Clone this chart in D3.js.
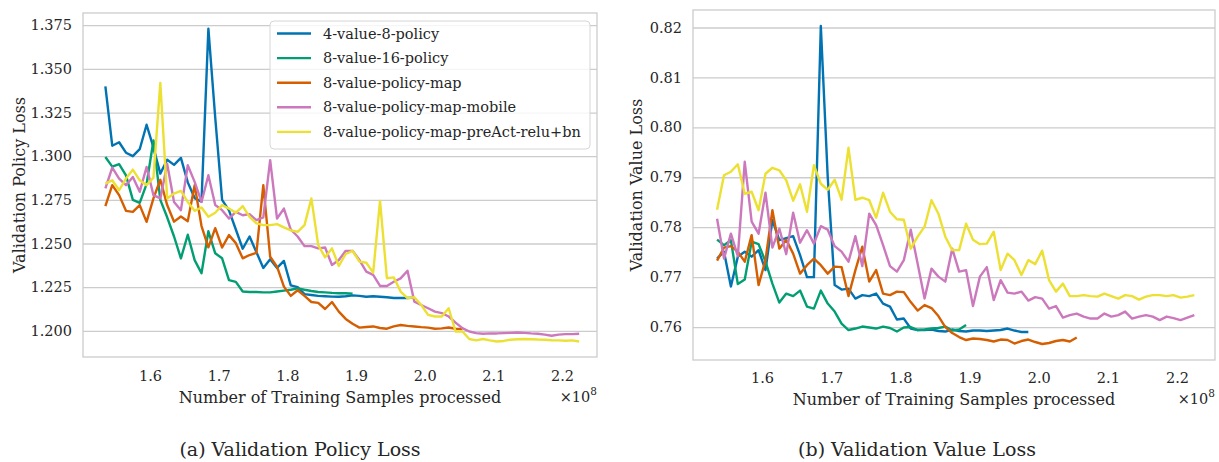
<!DOCTYPE html>
<html>
<head>
<meta charset="utf-8">
<script src="https://cdn.jsdelivr.net/npm/d3@7"></script>
<style>
  body { margin: 0; background: #fff; }
  text { font-family: "DejaVu Serif", serif; fill: #262626; }
</style>
</head>
<body>
<div id="chart"></div>
<script>
// samples processed, in units of 1e8
const samples = [
  1.535, 1.545, 1.555, 1.565, 1.575, 1.585, 1.595, 1.605, 1.615, 1.625,
  1.635, 1.645, 1.655, 1.665, 1.675, 1.685, 1.695, 1.705, 1.715, 1.725,
  1.735, 1.745, 1.755, 1.765, 1.775, 1.785, 1.795, 1.805, 1.815, 1.825,
  1.835, 1.845, 1.855, 1.865, 1.875, 1.885, 1.895, 1.905, 1.915, 1.925,
  1.935, 1.945, 1.955, 1.965, 1.975, 1.985, 1.995, 2.005, 2.015, 2.025,
  2.035, 2.045, 2.055, 2.065, 2.075, 2.085, 2.095, 2.105, 2.115, 2.125,
  2.135, 2.145, 2.155, 2.165, 2.175, 2.185, 2.195, 2.205, 2.215, 2.225
];

const seriesNames = [
  '4-value-8-policy',
  '8-value-16-policy',
  '8-value-policy-map',
  '8-value-policy-map-mobile',
  '8-value-policy-map-preAct-relu+bn'
];

const policyBlue = [
  1.340, 1.306, 1.308, 1.302, 1.300, 1.304, 1.318, 1.305, 1.290, 1.298,
  1.295, 1.299, 1.285, 1.276, 1.274, 1.373, 1.322, 1.275, 1.269, 1.258,
  1.247, 1.254, 1.245, 1.236, 1.241, 1.236, 1.240, 1.226, 1.225, 1.221,
  1.2205, 1.2200, 1.2198, 1.2196, 1.2195, 1.2198, 1.2203, 1.2200, 1.2195, 1.2198,
  1.2195, 1.2192, 1.2188, 1.2188, 1.2188, 1.2190
];
const policyGreen = [
  1.2995, 1.294, 1.2954, 1.289, 1.275, 1.2733, 1.284, 1.309, 1.275, 1.265,
  1.254, 1.2415, 1.255, 1.2405, 1.233, 1.257, 1.2444, 1.2415, 1.229, 1.228,
  1.2225, 1.2222, 1.2222, 1.2220, 1.2220, 1.2225, 1.2230, 1.2235, 1.2243, 1.2235,
  1.2228, 1.2222, 1.2220, 1.2217, 1.2215, 1.2215, 1.2212
];
const policyOrange = [
  1.2714, 1.2834, 1.2777, 1.2687, 1.2681, 1.2720, 1.2624, 1.2758, 1.2865, 1.2720,
  1.2625, 1.2655, 1.2628, 1.2834, 1.2600, 1.2478, 1.2588, 1.2477, 1.2548, 1.2502,
  1.2415, 1.2434, 1.2447, 1.2834, 1.2424, 1.2367, 1.2253, 1.2200, 1.2232, 1.2200,
  1.2165, 1.2160, 1.2125, 1.2165, 1.2110, 1.2068, 1.2040, 1.2018, 1.2022, 1.2025,
  1.2016, 1.2012, 1.2025, 1.2033, 1.2028, 1.2025, 1.2021, 1.2018, 1.2012, 1.2014,
  1.2019, 1.2012, 1.2010
];
const policyPink = [
  1.2815, 1.2935, 1.2872, 1.2834, 1.2881, 1.2796, 1.2938, 1.2777, 1.2758, 1.2955,
  1.2738, 1.2691, 1.2948, 1.2853, 1.2738, 1.2891, 1.2720, 1.2691, 1.2643, 1.2681,
  1.2662, 1.2668, 1.2634, 1.2649, 1.2977, 1.2643, 1.2700, 1.2580, 1.2540, 1.2485,
  1.2485, 1.2472, 1.2477, 1.2377, 1.2405, 1.2458, 1.2458, 1.2405, 1.2339, 1.2320,
  1.2257, 1.2257, 1.2281, 1.2300, 1.2344, 1.2167, 1.2148, 1.2129, 1.2110, 1.2101,
  1.2082, 1.2047, 1.2015, 1.1996, 1.1987, 1.1983, 1.1985, 1.1985, 1.1987, 1.1988,
  1.1990, 1.1988, 1.1985, 1.1983, 1.1978, 1.1972, 1.1978, 1.1981, 1.1981, 1.1983
];
const policyYellow = [
  1.2843, 1.2862, 1.2805, 1.2872, 1.2923, 1.2862, 1.2834, 1.2877, 1.3420, 1.2758,
  1.2786, 1.2801, 1.2738, 1.2687, 1.2706, 1.2653, 1.2676, 1.2720, 1.2700, 1.2676,
  1.2714, 1.2653, 1.2615, 1.2605, 1.2605, 1.2611, 1.2592, 1.2575, 1.2567, 1.2605,
  1.2758, 1.2491, 1.2421, 1.2472, 1.2371, 1.2440, 1.2458, 1.2396, 1.2390, 1.2333,
  1.2744, 1.2301, 1.2306, 1.2225, 1.2187, 1.2192, 1.2148, 1.2091, 1.2082, 1.2082,
  1.2129, 1.1996, 1.1996, 1.1953, 1.1945, 1.1953, 1.1945, 1.1939, 1.1942, 1.1949,
  1.1952, 1.1953, 1.1952, 1.1950, 1.1949, 1.1946, 1.1945, 1.1943, 1.1945, 1.1939
];

const valueBlue = [
  0.7737, 0.7751, 0.7681, 0.7741, 0.7751, 0.7741, 0.7754, 0.7714, 0.7814, 0.7774,
  0.7778, 0.7782, 0.7744, 0.7700, 0.7700, 0.8203, 0.7900, 0.7684, 0.7675, 0.7677,
  0.7657, 0.7664, 0.7662, 0.7667, 0.7647, 0.7641, 0.7615, 0.7617, 0.7597, 0.7594,
  0.7594, 0.7595, 0.7592, 0.7591, 0.7595, 0.7592, 0.7591, 0.7593, 0.7593, 0.7592,
  0.7593, 0.7594, 0.7597, 0.7593, 0.7590, 0.7590
];
const valueGreen = [
  0.7775, 0.7764, 0.7774, 0.7686, 0.7695, 0.7771, 0.7766, 0.7731, 0.7687, 0.7649,
  0.7667, 0.7662, 0.7673, 0.7641, 0.7637, 0.7673, 0.7647, 0.7631, 0.7607, 0.7594,
  0.7597, 0.7601, 0.7599, 0.7597, 0.7601, 0.7598, 0.7591, 0.7599, 0.7600, 0.7594,
  0.7595, 0.7597, 0.7598, 0.7601, 0.7593, 0.7595, 0.7604
];
const valueOrange = [
  0.7733, 0.7759, 0.7762, 0.7751, 0.7731, 0.7784, 0.7684, 0.7734, 0.7834, 0.7757,
  0.7775, 0.7747, 0.7707, 0.7724, 0.7737, 0.7724, 0.7707, 0.7721, 0.7720, 0.7662,
  0.7714, 0.7761, 0.7691, 0.7714, 0.7667, 0.7664, 0.7671, 0.7670, 0.7650, 0.7633,
  0.7644, 0.7638, 0.7622, 0.7600, 0.7588, 0.7580, 0.7574, 0.7577, 0.7576, 0.7574,
  0.7571, 0.7575, 0.7574, 0.7567, 0.7572, 0.7575, 0.7570, 0.7566, 0.7568, 0.7572,
  0.7574, 0.7571, 0.7579
];
const valuePink = [
  0.7817, 0.7737, 0.7787, 0.7742, 0.7931, 0.7811, 0.7787, 0.7869, 0.7759, 0.7797,
  0.7746, 0.7829, 0.7769, 0.7794, 0.7767, 0.7802, 0.7795, 0.7762, 0.7751, 0.7731,
  0.7782, 0.7722, 0.7827, 0.7804, 0.7764, 0.7722, 0.7711, 0.7734, 0.7795, 0.7727,
  0.7657, 0.7717, 0.7701, 0.7691, 0.7757, 0.7711, 0.7714, 0.7642, 0.7701, 0.7720,
  0.7654, 0.7694, 0.7669, 0.7667, 0.7671, 0.7653, 0.7660, 0.7657, 0.7637, 0.7642,
  0.7619, 0.7624, 0.7627, 0.7621, 0.7617, 0.7617, 0.7627, 0.7621, 0.7624, 0.7631,
  0.7617, 0.7621, 0.7624, 0.7621, 0.7614, 0.7621, 0.7618, 0.7614, 0.7619, 0.7624
];
const valueYellow = [
  0.7835, 0.7904, 0.7911, 0.7926, 0.7867, 0.7871, 0.7834, 0.7907, 0.7919, 0.7914,
  0.7894, 0.7853, 0.7886, 0.7831, 0.7924, 0.7887, 0.7875, 0.7895, 0.7855, 0.7959,
  0.7855, 0.7859, 0.7854, 0.7819, 0.7869, 0.7831, 0.7816, 0.7815, 0.7757, 0.7781,
  0.7801, 0.7854, 0.7827, 0.7781, 0.7754, 0.7754, 0.7807, 0.7775, 0.7766, 0.7767,
  0.7791, 0.7714, 0.7747, 0.7734, 0.7704, 0.7734, 0.7726, 0.7753, 0.7694, 0.7671,
  0.7687, 0.7662, 0.7662, 0.7664, 0.7662, 0.7661, 0.7667, 0.7662, 0.7657, 0.7664,
  0.7662, 0.7655, 0.7661, 0.7664, 0.7664, 0.7662, 0.7664, 0.7659, 0.7661, 0.7664
];

const xTicks = [1.6, 1.7, 1.8, 1.9, 2.0, 2.1, 2.2];
const policyTicks = [1.200, 1.225, 1.250, 1.275, 1.300, 1.325, 1.350, 1.375];
const valueTicks = [0.76, 0.77, 0.78, 0.79, 0.80, 0.81, 0.82];

const colors = ['#0173b2', '#029e73', '#d55e00', '#cc78bc', '#ece133'];
const gridColor = '#cccccc';


const svg = d3.select('#chart')
      .append('svg')
      .attr('width', 1219)
      .attr('height', 462);

const panel = (opts) => {
  const x = d3.scaleLinear().domain(opts.xDomain).range([opts.left, opts.right]),
        y = d3.scaleLinear().domain(opts.yDomain).range([opts.bottom, opts.top]);
  const g = svg.append('g');
  const w = opts.right - opts.left;

  // horizontal grid only
  g.append('g')
    .attr('transform', `translate(${opts.left},0)`)
    .call(d3.axisLeft(y).tickValues(opts.yTicks).tickSize(-w).tickFormat(''))
    .call(a => a.select('.domain').remove())
    .selectAll('line')
    .attr('stroke', gridColor)
    .attr('stroke-width', 1.3);

  g.append('rect')
    .attr('x', opts.left).attr('y', opts.top)
    .attr('width', w).attr('height', opts.bottom - opts.top)
    .attr('fill', 'none')
    .attr('stroke', gridColor)
    .attr('stroke-width', 1.3);

  const axisY = g.append('g')
        .attr('transform', `translate(${opts.left},0)`)
        .call(d3.axisLeft(y).tickValues(opts.yTicks).tickSize(0).tickPadding(11)
              .tickFormat(d3.format(opts.yFormat)));
  const axisX = g.append('g')
        .attr('transform', `translate(0,${opts.bottom})`)
        .call(d3.axisBottom(x).tickValues(xTicks).tickSize(0).tickPadding(opts.xPad)
              .tickFormat(d3.format('.1f')));
  [axisX, axisY].forEach(a => {
    a.select('.domain').remove();
    a.selectAll('text')
      .attr('font-family', '"DejaVu Serif", serif')
      .attr('font-size', 14.5)
      .attr('fill', '#262626');
  });

  const line = d3.line()
        .x((d, i) => x(samples[i]))
        .y(d => y(d));

  opts.series.forEach((values, k) => {
    g.append('path')
      .datum(values)
      .attr('d', line)
      .attr('fill', 'none')
      .attr('stroke', colors[k])
      .attr('stroke-width', 2.4)
      .attr('stroke-linejoin', 'round');
  });

  g.append('text')
    .attr('x', (opts.left + opts.right) / 2)
    .attr('y', opts.xLabelY)
    .attr('text-anchor', 'middle')
    .attr('font-size', 16)
    .text('Number of Training Samples processed');

  const off = g.append('text')
        .attr('x', opts.right)
        .attr('y', opts.xLabelY - 1)
        .attr('text-anchor', 'end')
        .attr('font-size', 14.5);
  off.append('tspan').text('\u00d710');
  off.append('tspan').attr('dy', -7).attr('font-size', 10.5).text('8');

  g.append('text')
    .attr('transform', `translate(${opts.yLabelX},${(opts.top + opts.bottom) / 2}) rotate(-90)`)
    .attr('text-anchor', 'middle')
    .attr('font-size', 16)
    .text(opts.yLabel);

  g.append('text')
    .attr('x', opts.captionX)
    .attr('y', 456)
    .attr('text-anchor', 'middle')
    .attr('font-size', 19)
    .text(opts.caption);

  return g;
};


const left = panel({
  left: 83, right: 597, top: 13, bottom: 357,
  xDomain: [1.5024, 2.251], yDomain: [1.185, 1.382],
  yTicks: policyTicks, yFormat: '.3f', xPad: 14,
  series: [policyBlue, policyGreen, policyOrange, policyPink, policyYellow],
  xLabelY: 403, yLabelX: 25,
  yLabel: 'Validation Policy Loss',
  caption: '(a) Validation Policy Loss', captionX: 300
});

panel({
  left: 693, right: 1215, top: 10, bottom: 360,
  xDomain: [1.5002, 2.2549], yDomain: [0.7534, 0.8235],
  yTicks: valueTicks, yFormat: '.2f', xPad: 13,
  series: [valueBlue, valueGreen, valueOrange, valuePink, valueYellow],
  xLabelY: 405, yLabelX: 642,
  yLabel: 'Validation Value Loss',
  caption: '(b) Validation Value Loss', captionX: 917
});


// legend in the upper right of the first panel
const legend = left.append('g');
legend.append('rect')
  .attr('x', 270).attr('y', 21)
  .attr('width', 320).attr('height', 128)
  .attr('rx', 4)
  .attr('fill', '#fff').attr('fill-opacity', 0.8)
  .attr('stroke', '#d6d6d6');

seriesNames.forEach((name, k) => {
  const cy = 33.5 + k * 24.6;
  legend.append('line')
    .attr('x1', 277).attr('x2', 311)
    .attr('y1', cy).attr('y2', cy)
    .attr('stroke', colors[k])
    .attr('stroke-width', 2.4);
  legend.append('text')
    .attr('x', 323).attr('y', cy + 5)
    .attr('font-size', 14.5)
    .text(name);
});
</script>
</body>
</html>
